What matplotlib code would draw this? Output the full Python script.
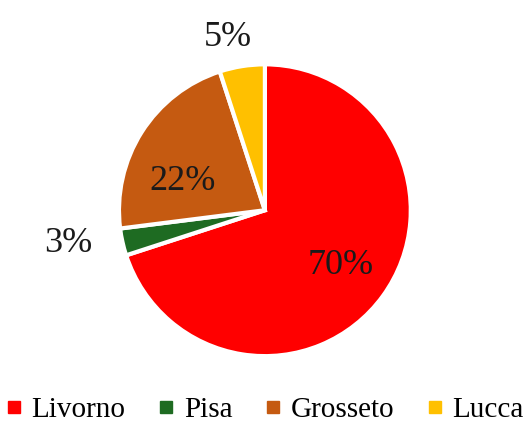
import numpy as np
import matplotlib.pyplot as plt
from matplotlib.lines import Line2D

provinces = ["Livorno", "Pisa", "Grosseto", "Lucca"]
shares = [70, 3, 22, 5]
colors = ["#FF0000", "#1E6B22", "#C55A11", "#FFC000"]
# radial distance of each percentage label from the centre
label_r = [0.64, 1.37, 0.6, 1.21]
label_shift = [0, -3, 13, 3]  # degrees

plt.rcParams['font.family'] = ['Liberation Serif', 'DejaVu Serif']

fig = plt.figure(figsize=(5.24, 4.26), dpi=100)
ax = fig.add_axes([0.227, 0.164, 0.557, 0.685])

wedges, _ = ax.pie(shares, colors=colors, startangle=90, counterclock=False,
                   radius=1.0, wedgeprops=dict(edgecolor="white", linewidth=3))

for w, val, r, sh in zip(wedges, shares, label_r, label_shift):
    ang = np.deg2rad((w.theta1 + w.theta2) / 2 + sh)
    ax.text(r * np.cos(ang), r * np.sin(ang), f"{val}%", ha="center", va="center",
            fontsize=26, color="#1a1a1a")

ax.set_xlim(-1, 1)
ax.set_ylim(-1, 1)
ax.set_aspect("equal")

handles = [Line2D([], [], marker="s", linestyle="none", markersize=8.5,
                  markerfacecolor=c, markeredgecolor=c) for c in colors]
fig.legend(handles, provinces, loc="lower center", ncol=4, frameon=False,
           fontsize=21, handlelength=0.6, handletextpad=0.3, columnspacing=1.1,
           bbox_to_anchor=(0.505, -0.055))

fig.savefig("out.png", dpi=100)
